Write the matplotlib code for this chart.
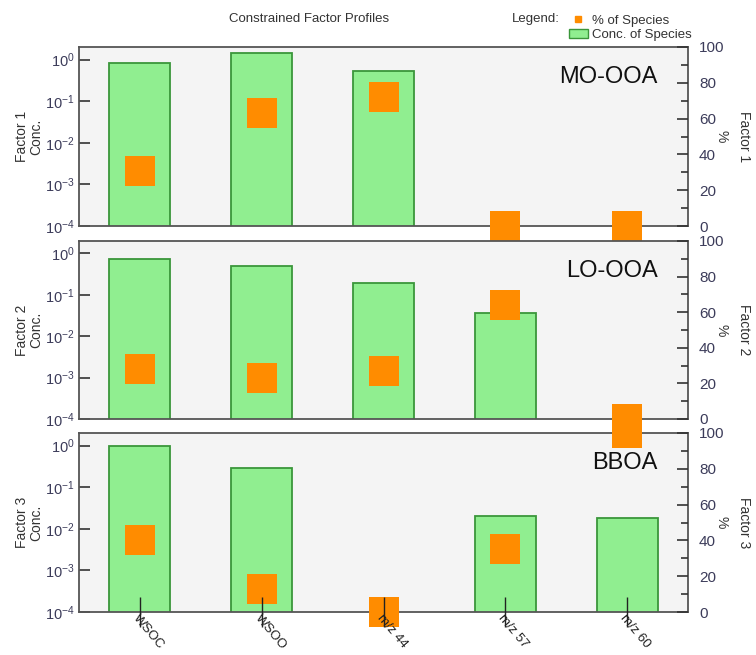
import numpy as np
import matplotlib
matplotlib.use('Agg')
import matplotlib.pyplot as plt
from matplotlib.lines import Line2D
from matplotlib.patches import Patch

plt.rcParams['font.family'] = ['Liberation Sans', 'DejaVu Sans']
plt.rcParams['mathtext.fontset'] = 'custom'
plt.rcParams['mathtext.rm'] = 'Liberation Sans'
plt.rcParams['mathtext.it'] = 'Liberation Sans:italic'

# species on the x axis
SPECIES = ['WSOC', 'WSOO', 'm/z 44', 'm/z 57', 'm/z 60']
FACTORS = ['MO-OOA', 'LO-OOA', 'BBOA']

# concentration of species (log axis), 0 = no bar
CONC_F1 = [0.83, 1.42, 0.52, 0, 0]
CONC_F2 = [0.72, 0.49, 0.19, 0.036, 0]
CONC_F3 = [1.0, 0.29, 0, 0.020, 0.018]

# percent of species (right axis)
PCT_F1 = [31, 63, 72, 0, 0]
PCT_F2 = [28, 23, 27, 64, 0]
PCT_F3 = [40, 13, 0, 35, 100]

CONC = [CONC_F1, CONC_F2, CONC_F3]
PCT = [PCT_F1, PCT_F2, PCT_F3]

W, H = 756, 655
fig = plt.figure(figsize=(W / 100, H / 100), dpi=100)

LEFT, RIGHT = 79, 688
PANELS = [(47, 226), (241, 419), (433, 612)]
TICKCOL = '#3c3c5a'
GREEN = '#90ee90'
GREEN_EDGE = '#3a963a'
ORANGE = '#ff8c00'

x = np.arange(len(SPECIES))
for i, (top, bot) in enumerate(PANELS):
    ax = fig.add_axes([LEFT / W, 1 - bot / H, (RIGHT - LEFT) / W, (bot - top) / H])
    ax.set_facecolor('#f4f4f4')
    ax.set_yscale('log')
    conc = np.array(CONC[i], dtype=float)
    m = conc > 0
    ax.bar(x[m], conc[m], width=0.5, color=GREEN, edgecolor=GREEN_EDGE, linewidth=1.3, zorder=2)
    ax.set_ylim(1e-4, 2.0)
    ax.set_xlim(-0.5, len(SPECIES) - 0.5)
    ax.set_yticks([1e0, 1e-1, 1e-2, 1e-3, 1e-4])
    ax.set_yticklabels([r'$10^{0}$', r'$10^{-1}$', r'$10^{-2}$', r'$10^{-3}$', r'$10^{-4}$'])
    ax.yaxis.set_minor_locator(matplotlib.ticker.NullLocator())
    ax.tick_params(axis='y', direction='in', length=8, width=1.2, color='#333333',
                   labelsize=10.5, labelcolor=TICKCOL, pad=3)
    ax.tick_params(axis='x', bottom=False, labelbottom=False)
    for s in ax.spines.values():
        s.set_color('#555555')
        s.set_linewidth(1.3)

    ax2 = ax.twinx()
    ax2.set_ylim(0, 100)
    ax2.plot(x, PCT[i], 's', color=ORANGE, markersize=21.5, markeredgewidth=0,
             clip_on=False, zorder=2)
    ax2.set_yticks([0, 20, 40, 60, 80, 100])
    ax2.set_yticks(np.arange(10, 100, 20), minor=True)
    ax2.tick_params(axis='y', which='major', direction='in', length=8, width=1.2,
                    color='#333333', labelsize=11, labelcolor=TICKCOL, pad=8)
    ax2.tick_params(axis='y', which='minor', direction='in', length=5, width=1.2, color='#333333')
    for s in ax2.spines.values():
        s.set_visible(False)
    if i == 2:
        # species ticks on the twin so they sit above the orange squares
        ax2.xaxis.set_visible(True)
        ax2.xaxis.tick_bottom()
        ax2.xaxis.set_zorder(3)
        ax2.set_xticks(x)
        ax2.set_xticklabels(SPECIES, rotation=-50, ha='left', va='top',
                            rotation_mode='anchor', fontsize=9.5, color='#222222')
        ax2.tick_params(axis='x', direction='inout', length=21, width=1.0, color='#222222', pad=-10)
    ax2.set_xlim(-0.5, len(SPECIES) - 0.5)

    ax.text(0.95, 0.83, FACTORS[i], transform=ax.transAxes, ha='right', va='center',
            fontsize=17, color='#111111', zorder=6)

    yc = 1 - (top + bot) / 2 / H
    fig.text(29 / W, yc, 'Factor %d\nConc.' % (i + 1), rotation=90, ha='center', va='center',
             multialignment='center', fontsize=10, color='#333333', linespacing=1.0)
    fig.text(721 / W, yc, '%', rotation=270, ha='center', va='center', fontsize=10, color='#333333')
    fig.text(744 / W, yc, 'Factor %d' % (i + 1), rotation=270, ha='center', va='center',
             fontsize=10, color='#333333')

fig.text(309 / W, 1 - 19 / H, 'Constrained Factor Profiles', ha='center', va='center',
         fontsize=9.5, color='#333333')
fig.text(512 / W, 1 - 19 / H, 'Legend:', ha='left', va='center', fontsize=9.5, color='#333333')
handles = [Line2D([], [], marker='s', linestyle='none', color=ORANGE, markersize=4.5),
           Patch(facecolor=GREEN, edgecolor=GREEN_EDGE)]
fig.legend(handles, ['% of Species', 'Conc. of Species'], loc='upper left',
           bbox_to_anchor=(562 / W, 1 - 8 / H), frameon=False, fontsize=9.5,
           handlelength=1.5, handleheight=0.7, handletextpad=0.3, labelspacing=0.15,
           borderpad=0, labelcolor='#333333')

fig.savefig('out.png', dpi=100)
